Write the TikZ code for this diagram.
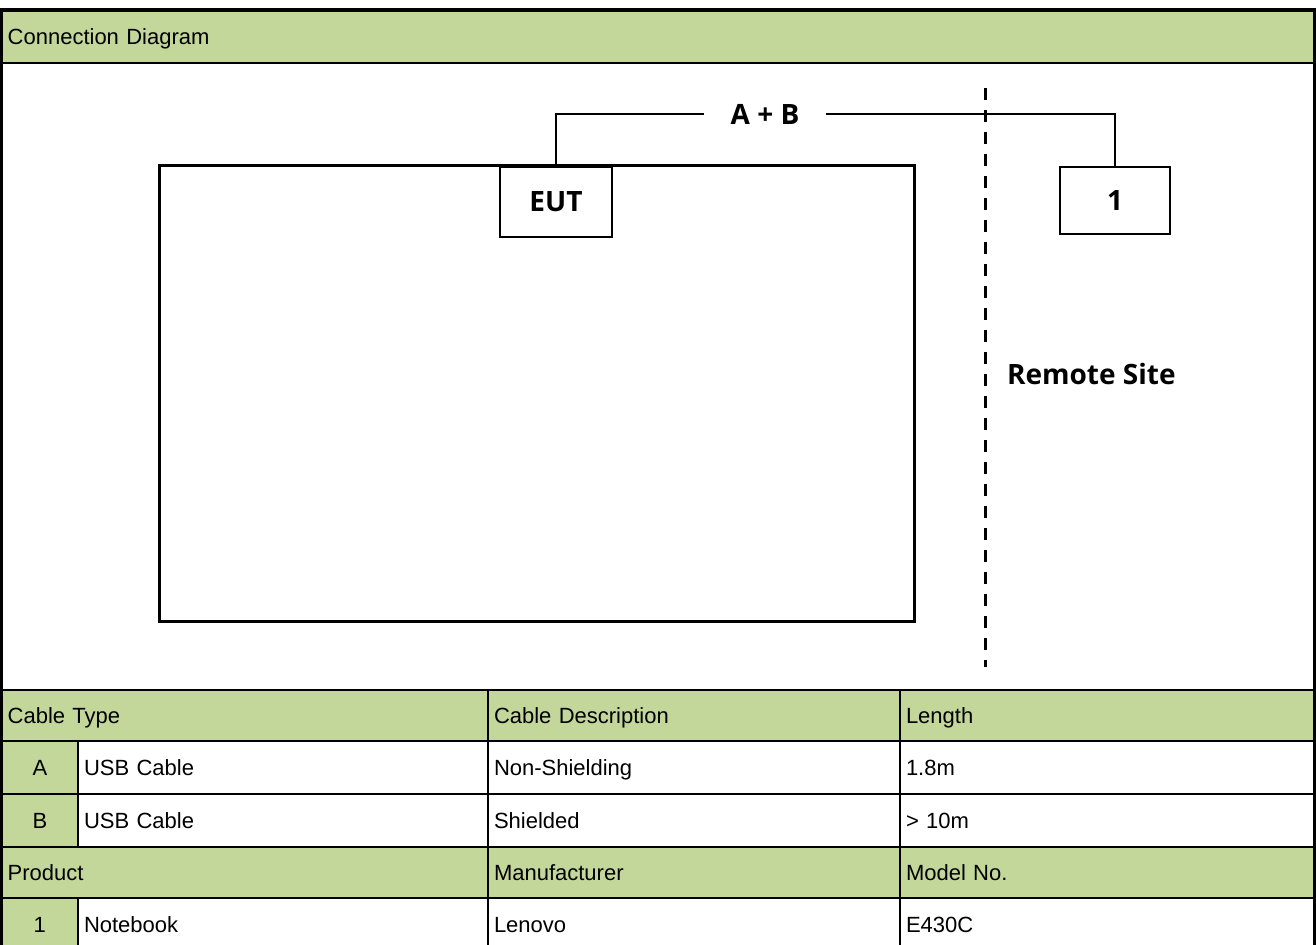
\documentclass[tikz,border=0pt]{standalone}
\usepackage{fontspec}
\setmainfont{Liberation Sans}
\newfontfamily\diagfont{Open Sans}
\usetikzlibrary{positioning}
\definecolor{headgreen}{RGB}{196,215,155}

\begin{document}
\begin{tikzpicture}[x=0.5pt, y=-0.5pt,
    cell/.style ={rectangle, draw=black, line width=1.2pt, outer sep=0pt,
      inner xsep=3pt, inner ysep=0pt, text height=8.8pt, text depth=1.2pt,
      align=left, font=\fontsize{11}{13}\selectfont},
    cell_green/.style ={cell, fill=headgreen},
    cell_white/.style ={cell, fill=white},
    col_num/.style ={minimum width=38.15pt, text width=32.15pt, align=center},
    col_item/.style ={minimum width=205pt, text width=199pt},
    col_desc/.style ={minimum width=206pt, text width=200pt},
    col_len/.style ={minimum width=207.25pt, text width=201.25pt},
    col_type/.style ={minimum width=243.15pt, text width=237.15pt},
    row_head/.style ={minimum height=25.5pt},
    row_body/.style ={minimum height=26.5pt},
    block_box/.style ={rectangle, draw=black, line width=1.4pt, fill=white,
      outer sep=0pt, font=\diagfont\fontsize{14}{16}\bfseries},
    block_noborder/.style ={rectangle, draw=none, font=\diagfont\fontsize{14}{16}\bfseries},
    wire/.style ={draw, line width=1.4pt},
    site_line/.style ={draw, line width=1.5pt, dash pattern=on 6pt off 5pt},
    frame/.style ={draw, line width=1.7pt}]
    \useasboundingbox (0,0) rectangle (1316,945);
    \clip (0,0) rectangle (1316,945);
    % title bar and drawing area
    \node [cell_green, minimum width=656.4pt, text width=650.4pt, minimum height=26.5pt,
      anchor=north west] (title) at (1.7,10) {Connection Diagram};
    \node [cell_white, minimum width=656.4pt, minimum height=313.5pt,
      anchor=north west] (drawing) at (title.south west) {};
    % cable table - header row
    \node [cell_green, col_type, row_head, anchor=north west] (cable_type) at (drawing.south west) {Cable Type};
    \node [cell_green, col_desc, row_head, right=0pt of cable_type] (cable_desc) {Cable Description};
    \node [cell_green, col_len, row_head, right=0pt of cable_desc] (cable_len) {Length};
    % cable table - row A
    \node [cell_green, col_num, row_body, anchor=north west] (num_a) at (cable_type.south west) {A};
    \node [cell_white, col_item, row_body, right=0pt of num_a] (item_a) {USB Cable};
    \node [cell_white, col_desc, row_body, right=0pt of item_a] (desc_a) {Non-Shielding};
    \node [cell_white, col_len, row_body, right=0pt of desc_a] (len_a) {1.8m};
    % cable table - row B
    \node [cell_green, col_num, row_body, anchor=north west] (num_b) at (num_a.south west) {B};
    \node [cell_white, col_item, row_body, right=0pt of num_b] (item_b) {USB Cable};
    \node [cell_white, col_desc, row_body, right=0pt of item_b] (desc_b) {Shielded};
    \node [cell_white, col_len, row_body, right=0pt of desc_b] (len_b) {> 10m};
    % product table - header row
    \node [cell_green, col_type, row_head, anchor=north west] (product) at (num_b.south west) {Product};
    \node [cell_green, col_desc, row_head, right=0pt of product] (maker) {Manufacturer};
    \node [cell_green, col_len, row_head, right=0pt of maker] (model) {Model No.};
    % product table - row 1
    \node [cell_green, col_num, minimum height=27pt, anchor=north west] (num_1) at (product.south west) {1};
    \node [cell_white, col_item, minimum height=27pt, right=0pt of num_1] (item_1) {Notebook};
    \node [cell_white, col_desc, minimum height=27pt, right=0pt of item_1] (maker_1) {Lenovo};
    \node [cell_white, col_len, minimum height=27pt, right=0pt of maker_1] (model_1) {E430C};
    % outer frame
    \draw [frame] (title.north west |- 0,960) -- (title.north west) -- (title.north east) -- (title.north east |- 0,960);
    % test setup
    \node [rectangle, draw=black, line width=1.5pt, outer sep=0pt, minimum width=377.5pt,
      minimum height=228pt, anchor=north west] (test_area) at (159,166) {};
    \node [block_box, minimum width=56pt, minimum height=35pt, anchor=north] (eut) at (556,167) {EUT};
    \node [block_box, minimum width=55pt, minimum height=33.5pt, anchor=north] (pc) at (1115,167) {1};
    \node [block_noborder, inner xsep=13pt] (cable_ab) at (765,114) {A + B};
    \node [block_noborder, anchor=west] (remote) at (1000,374) {Remote Site};
    \coordinate (site_top) at (985,88);
    \coordinate (site_bottom) at (985,667);
    \path [site_line] (site_top) -- (site_bottom);
    \path [wire] (eut.north) |- (cable_ab.west);
    \path [wire] (cable_ab.east) -| (pc.north);
\end{tikzpicture}
\end{document}
